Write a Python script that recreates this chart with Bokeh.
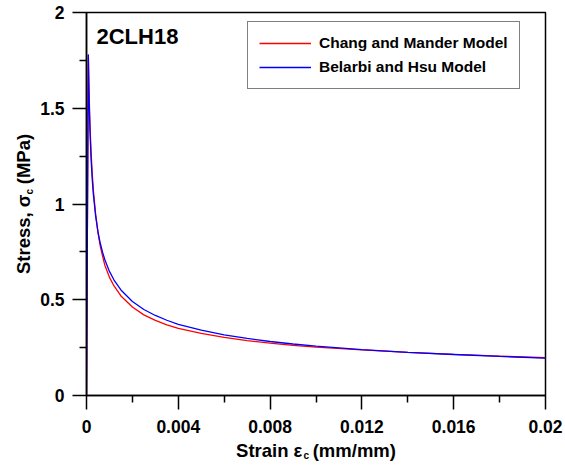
import math
from bokeh.plotting import figure
from bokeh.models import Range1d, FixedTicker, Label, Legend, LegendItem, Title
from bokeh.embed import file_html
from bokeh.resources import INLINE

# ---- data ----
strain = [0.0, 0.00008, 0.00009, 0.0001, 0.00012, 0.00015, 0.0002, 0.00025, 0.0003,
          0.0004, 0.0005, 0.0006, 0.0007, 0.0008, 0.001, 0.0012, 0.0015, 0.002,
          0.0025, 0.003, 0.0035, 0.004, 0.005, 0.006, 0.007, 0.008, 0.009, 0.010,
          0.012, 0.014, 0.016, 0.018, 0.020]
chang_mander = [0.0, 1.78, 1.72, 1.66, 1.55, 1.42, 1.27, 1.16, 1.07,
                0.945, 0.85, 0.78, 0.728, 0.68, 0.617, 0.572, 0.52, 0.462,
                0.421, 0.392, 0.369, 0.35, 0.324, 0.303, 0.287, 0.273, 0.262, 0.253,
                0.238, 0.225, 0.215, 0.206, 0.197]
belarbi_hsu = [0.0, 1.78, 1.698, 1.628, 1.514, 1.384, 1.234, 1.129, 1.049,
               0.935, 0.855, 0.795, 0.748, 0.709, 0.648, 0.603, 0.551, 0.491,
               0.449, 0.418, 0.393, 0.372, 0.341, 0.317, 0.298, 0.282, 0.269, 0.258,
               0.240, 0.225, 0.214, 0.204, 0.195]

x_ticks = [0, 0.004, 0.008, 0.012, 0.016, 0.02]
x_tick_labels = ["0", "0.004", "0.008", "0.012", "0.016", "0.02"]
x_minor = [0.002, 0.006, 0.010, 0.014, 0.018]
y_ticks = [0, 0.5, 1, 1.5, 2]
y_tick_labels = ["0", "0.5", "1", "1.5", "2"]
y_minor = [0.25, 0.75, 1.25, 1.75]

series_names = ["Chang and Mander Model", "Belarbi and Hsu Model"]
series_colors = ["#ff0000", "#0000ff"]
title_text = "2CLH18"
NB = "\u00a0"
x_label_main = "Strain ε" + NB * 2 + "(mm/mm)"
y_label_main = "Stress, σ" + NB * 2 + "(MPa)"
label_sub = "c"

# ---- layout ----
W, H = 565, 469
L, R, T, B = 86, 20, 12, 74
X0, X1, Y0, Y1 = 0.0, 0.02, 0.0, 2.0
FW, FH = W - L - R, H - T - B

FONT = "Liberation Sans"

p = figure(width=W, height=H, output_backend="svg", toolbar_location=None,
           x_range=Range1d(X0, X1), y_range=Range1d(Y0, Y1),
           min_border_left=L, min_border_right=R, min_border_top=T, min_border_bottom=B,
           title=None)
p.background_fill_color = "white"
p.border_fill_color = "white"
p.outline_line_color = "black"
p.outline_line_width = 1.5
p.xgrid.visible = False
p.ygrid.visible = False

for ax, ticks, minor, labels, alabel in ((p.xaxis[0], x_ticks, x_minor, x_tick_labels, x_label_main),
                                         (p.yaxis[0], y_ticks, y_minor, y_tick_labels, y_label_main)):
    ax.ticker = FixedTicker(ticks=ticks, minor_ticks=minor)
    ax.major_label_overrides = {t: s for t, s in zip(ticks, labels)}
    ax.axis_line_color = "black"
    ax.axis_line_width = 1.5
    ax.major_tick_line_color = "black"
    ax.major_tick_line_width = 1.5
    ax.minor_tick_line_color = "black"
    ax.minor_tick_line_width = 1.5
    ax.major_tick_in = 0
    ax.major_tick_out = 14
    ax.minor_tick_in = 0
    ax.minor_tick_out = 7
    ax.major_label_text_font = FONT
    ax.major_label_text_font_style = "bold"
    ax.major_label_text_font_size = "17.5px"
    ax.major_label_text_color = "black"
    ax.axis_label = alabel
    ax.axis_label_text_font = FONT
    ax.axis_label_text_font_style = "bold"
    ax.axis_label_text_font_size = "18.5px"
    ax.axis_label_text_color = "black"
p.xaxis[0].major_label_standoff = 10
p.yaxis[0].major_label_standoff = 8
p.xaxis[0].axis_label_standoff = 4
p.yaxis[0].axis_label_standoff = 3

r1 = p.line(strain, chang_mander, line_color=series_colors[0], line_width=1.3)
r2 = p.line(strain, belarbi_hsu, line_color=series_colors[1], line_width=1.3)

legend = Legend(items=[LegendItem(label=series_names[0], renderers=[r1]),
                       LegendItem(label=series_names[1], renderers=[r2])],
                location=(161, 306), padding=11, spacing=4, glyph_height=20,
                glyph_width=52, label_standoff=8, label_height=20,
                label_text_font=FONT, label_text_font_style="bold",
                label_text_font_size="15.5px", label_text_color="black",
                border_line_color="black", border_line_width=1,
                background_fill_color="white", background_fill_alpha=1.0)
p.add_layout(legend, "center")

# sample name inside the frame (screen units from frame's bottom-left)
p.add_layout(Label(x=96 - L, y=(T + FH) - 36, x_units="screen", y_units="screen",
                   text=title_text, text_font=FONT, text_font_style="bold",
                   text_font_size="22px", text_color="black",
                   text_align="left", text_baseline="alphabetic"))

# subscripts "c" as side-panel titles (not clipped by the frame)
p.add_layout(Title(text=label_sub, align="left", offset=217, vertical_align="top",
                   standoff=-28, text_font=FONT, text_font_style="bold",
                   text_font_size="10px", text_color="black"), "below")
p.add_layout(Title(text=label_sub, align="left", offset=201, vertical_align="bottom",
                   standoff=-49, text_font=FONT, text_font_style="bold",
                   text_font_size="10px", text_color="black"), "left")

open("out.html", "w").write(file_html(p, INLINE))
